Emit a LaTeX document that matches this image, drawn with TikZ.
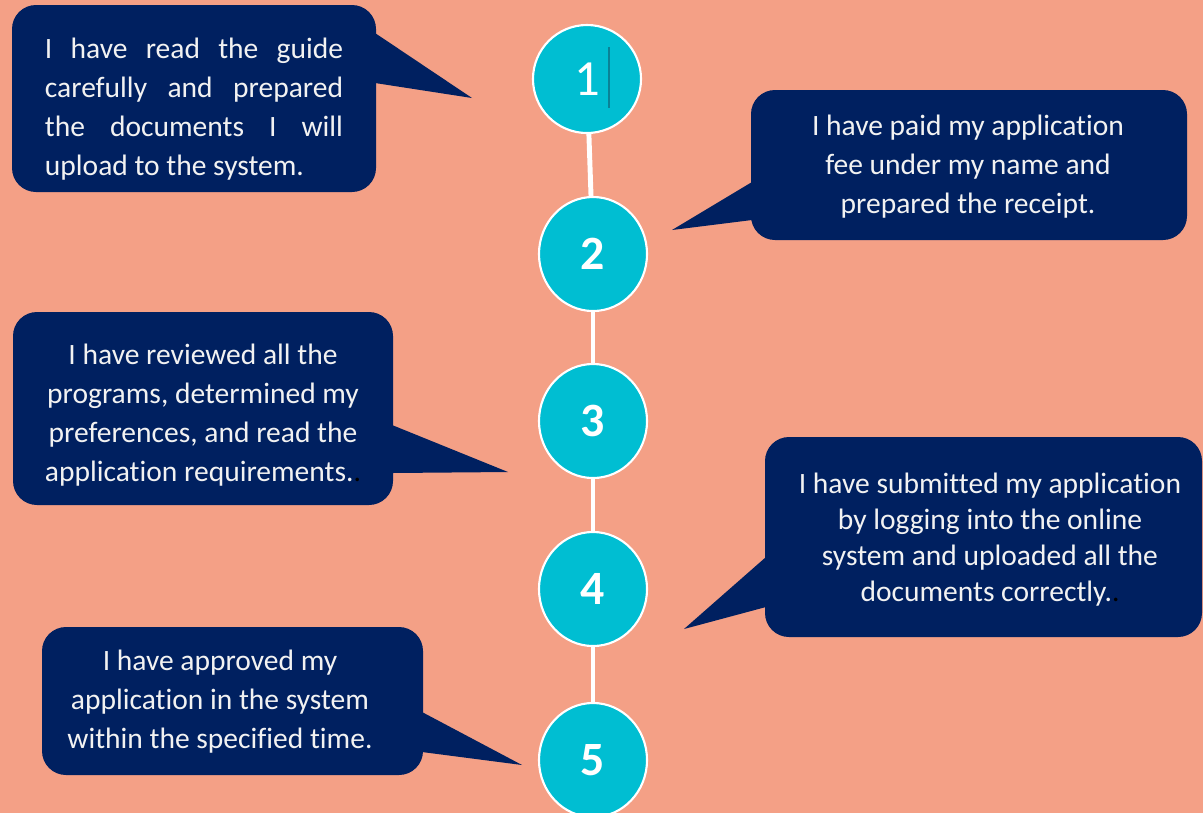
\documentclass[tikz,border=0pt]{standalone}
\usepackage{fontspec}
\setmainfont{Carlito}[Ligatures=NoCommon]
\usetikzlibrary{shapes.geometric}
\definecolor{salmon}{RGB}{244,160,134}
\definecolor{navy}{RGB}{0,32,96}
\definecolor{stepcyan}{RGB}{0,190,210}
\definecolor{paper}{RGB}{242,242,242}
\definecolor{cursorcol}{RGB}{10,130,150}
\tikzset{
  bubble/.style={fill=navy, rounded corners=0.6cm},
  bubbletext/.style={text=paper, inner sep=0pt, align=center, font=\fontsize{21}{27.7}\selectfont},
  stepnode/.style={ellipse, draw=white, line width=1.5pt, fill=stepcyan, text=white,
    minimum width=2.7cm, minimum height=2.85cm, inner sep=0pt, font=\bfseries\fontsize{34}{40}\selectfont},
}
\begin{document}
\begin{tikzpicture}[x=0.025cm, y=-0.025cm]
      \useasboundingbox (0,0) rectangle (1203,812);
      \fill[salmon] (-10,-10) rectangle (1213,822);
      % callouts
      \fill[bubble] (12,5) rectangle (376,192);
      \fill[navy] (375,33) -- (472,98) -- (375,83) -- cycle;
      \fill[bubble] (751,90) rectangle (1187,240);
      \fill[navy] (752,182) -- (672,230) -- (752,220) -- cycle;
      \fill[bubble] (13,312) rectangle (393,505);
      \fill[navy] (392,425) -- (508,472) -- (392,473) -- cycle;
      \fill[bubble] (765,437) rectangle (1202,637);
      \fill[navy] (766,557) -- (684,629) -- (766,607) -- cycle;
      \fill[bubble] (42,627) rectangle (423,775);
      \fill[navy] (422,712) -- (522,765) -- (422,752) -- cycle;
      \node[bubbletext, text width=7.45cm, align=justify] (c1) at (194,109)
        {I have read the guide\linebreak carefully and prepared\linebreak the documents I will\linebreak upload to the system.};
      \node[bubbletext] (c2) at (968,167)
        {I have paid my application\\fee under my name and\\prepared the receipt.};
      \node[bubbletext] (c3) at (203,415)
        {I have reviewed all the\\programs, determined my\\preferences, and read the\\application requirements.{\color{black}.}};
      \node[bubbletext, font=\fontsize{21}{25.6}\selectfont] (c4) at (990,540)
        {I have submitted my application\\by logging into the online\\system and uploaded all the\\documents correctly.{\color{black}.}};
      \node[bubbletext] (c5) at (220,702)
        {I have approved my\\application in the system\\within the specified time.};
      % steps
      \node[stepnode, minimum height=2.7cm, font=\fontsize{36}{40}\selectfont] (1) at (587,79) {1};
      \node[stepnode] (2) at (593,254) {2};
      \node[stepnode] (3) at (593,421) {3};
      \node[stepnode] (4) at (593,589) {4};
      \node[stepnode] (5) at (593,760) {5};
      \draw[cursorcol, line width=0.8pt] (609,47) -- (609,108);
      \begin{scope}[white, line width=3.5pt]
        \draw (1) to (2);
        \draw (2) to (3);
        \draw (3) to (4);
        \draw (4) to (5);
      \end{scope}
    \end{tikzpicture}
\end{document}
